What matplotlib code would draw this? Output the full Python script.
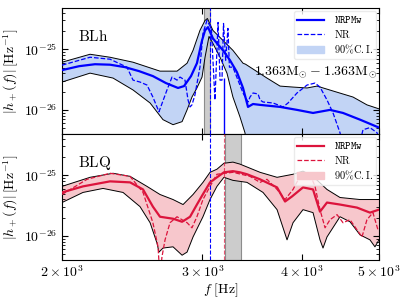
import numpy as np
import matplotlib
matplotlib.use("Agg")
import matplotlib.pyplot as plt
from matplotlib.lines import Line2D
from matplotlib.patches import Patch
from matplotlib.ticker import NullLocator

plt.rcParams['mathtext.fontset'] = 'cm'
plt.rcParams['font.family'] = 'serif'
plt.rcParams['font.serif'] = ['DejaVu Serif']

# ---- BLh (top) : amplitudes in units of 1e-26 ----
blh_med_f = [2000, 2101, 2200, 2298, 2400, 2499, 2601, 2701, 2797, 2846, 2904, 2954, 2998, 3024,
             3050, 3094, 3185, 3250, 3316, 3375, 3424, 3474, 3545, 3756, 3945, 4132, 4340, 4506, 4733, 5000]
blh_med_a = [4.53, 5.26, 5.67, 5.57, 5.07, 4.36, 3.61, 2.77, 2.30, 2.47, 3.61, 5.89, 14.0, 20.5,
             23.2, 15.1, 9.6, 6.61, 4.20, 2.30, 1.12, 1.25, 1.21, 1.12, 1.00, 0.89, 1.00, 0.89, 0.69, 0.51]

blh_up_f = [2000, 2169, 2298, 2456, 2655, 2789, 2871, 2921, 2980, 3024, 3045, 3094, 3185, 3278,
            3375, 3400, 3617, 3756, 3900, 4061, 4180, 4378, 4638, 4829, 5000]
blh_up_a = [6.12, 8.28, 7.39, 6.12, 4.36, 4.36, 5.89, 9.6, 20.5, 29.9, 32.2, 20.5, 14.0, 9.6,
            5.89, 5.67, 3.35, 2.47, 2.38, 2.30, 2.47, 2.05, 1.63, 1.21, 1.04]

blh_lo_f = [2000, 2169, 2318, 2456, 2580, 2678, 2757, 2830, 2871, 2912, 2954, 2998, 3024, 3059,
            3094, 3158, 3222, 3278, 3345, 3394, 3450, 5000]
blh_lo_a = [2.88, 4.04, 3.35, 2.13, 1.30, 0.69, 0.57, 0.64, 1.00, 1.63, 2.30, 3.48, 7.39, 16.3,
            12.5, 7.39, 4.04, 1.63, 0.77, 0.42, 0.1, 0.1]

blh_nr_f = [2000, 2169, 2298, 2413, 2456, 2506, 2557, 2601, 2647, 2709, 2749, 2789, 2813, 2854,
            2879, 2896, 2912, 2937, 2980, 3006, 3041, 3080, 3112, 3140, 3158, 3176, 3190, 3210,
            3231, 3245, 3278, 3375, 3424, 3444, 3474, 3525, 3545, 3576, 3681, 3789, 3844, 3945,
            4061, 4156, 4216, 4302, 4378, 4467, 4520, 4700, 4774, 4871, 4971, 5000]
blh_nr_a = [5.47, 7.39, 6.86, 5.07, 3.10, 2.88, 2.57, 1.63, 0.93, 2.13, 3.48, 3.10, 3.48, 3.10,
            1.46, 1.12, 1.21, 1.76, 5.07, 18.3, 29.9, 22.0, 1.46, 27.7, 3.10, 3.10, 26.7, 6.6,
            22.1, 5.07, 5.07, 1.90, 1.35, 1.63, 1.90, 1.83, 1.46, 1.35, 1.30, 1.12, 1.30, 1.90,
            2.57, 2.77, 2.38, 1.46, 0.89, 0.42, 0.2, 0.2, 0.47, 0.51, 0.42, 0.35]

# ---- BLQ (bottom) ----
blq_med_f = [2000, 2125, 2298, 2435, 2528, 2601, 2655, 2757, 2830, 2896, 2954, 2998, 3068, 3130,
             3194, 3278, 3345, 3414, 3545, 3724, 3811, 3888, 4014, 4132, 4216, 4302, 4467, 4692, 4871, 5000]
blq_med_a = [5.21, 6.56, 7.94, 7.64, 5.84, 3.04, 2.07, 1.92, 1.71, 2.07, 3.29, 4.6, 7.64, 9.26,
             11.2, 11.7, 11.2, 10.4, 8.58, 6.31, 3.69, 4.47, 6.31, 5.84, 2.51, 3.55, 3.29, 2.93, 2.42, 2.71]

blq_up_f = [2000, 2169, 2318, 2435, 2557, 2655, 2757, 2838, 2921, 3006, 3068, 3130, 3194, 3278,
            3345, 3545, 3724, 3900, 4014, 4132, 4302, 4467, 4733, 5000]
blq_up_a = [6.56, 9.26, 10.8, 9.6, 6.56, 4.82, 3.98, 3.29, 4.82, 7.64, 11.2, 12.6, 15.8, 16.5,
            15.3, 11.2, 9.26, 10.4, 11.7, 9.6, 5.84, 4.30, 3.98, 3.98]

blq_lo_f = [2000, 2125, 2252, 2386, 2506, 2580, 2632, 2647, 2678, 2757, 2830, 2871, 2921, 3006,
            3068, 3130, 3194, 3278, 3414, 3576, 3724, 3833, 3900, 4014, 4132, 4216, 4253, 4302,
            4467, 4598, 4733, 4871, 4942, 5000]
blq_lo_a = [3.55, 5.21, 6.07, 5.21, 3.04, 1.65, 0.76, 0.54, 0.63, 0.66, 0.48, 0.54, 0.96, 2.07,
            3.98, 6.56, 9.26, 8.25, 7.64, 5.21, 2.71, 0.86, 1.65, 2.71, 2.42, 0.86, 0.63, 0.96,
            2.07, 1.71, 1.04, 0.86, 0.66, 0.86]

blq_nr_f = [2000, 2150, 2298, 2435, 2528, 2601, 2640, 2655, 2670, 2694, 2733, 2789, 2871, 2912,
            2954, 3006, 3068, 3130, 3278, 3444, 3545, 3617, 3724, 3811, 3900, 3979, 4096, 4156,
            4216, 4278, 4340, 4429, 4506, 4598, 4692, 4760, 4829, 4913, 4985]
blq_nr_a = [4.82, 8.58, 10.8, 9.6, 5.21, 1.65, 0.66, 0.2, 0.45, 0.86, 1.65, 2.07, 1.65, 1.36,
            2.07, 3.98, 6.56, 10.4, 11.2, 9.6, 7.64, 8.58, 5.84, 3.98, 5.84, 9.6, 10.4, 6.56,
            2.71, 1.36, 1.85, 2.24, 1.65, 1.85, 1.26, 0.96, 1.85, 2.42, 1.26]

# reference frequencies [Hz]
blh_span = (3018, 3066)
blq_span = (3200, 3355)
f_blue_line = 3071
f_red_line = 3194
blh_spike_top = 3.35

scale = 1e-26
blue = '#0000ff'
red = '#dc143c'
blue_fill = (0.76, 0.83, 0.96)
red_fill = (0.97, 0.78, 0.80)

fig = plt.figure(figsize=(4.07, 3.01), dpi=100)
ax1 = fig.add_axes([0.1523, 0.5548, 0.7789, 0.4186])
ax2 = fig.add_axes([0.1523, 0.1362, 0.7789, 0.4186])


def band(ax, uf, ua, lf, la, fc):
    uf, ua, lf, la = map(np.asarray, (uf, ua, lf, la))
    ax.fill(np.r_[uf, lf[::-1]], np.r_[ua, la[::-1]] * scale, color=fc, lw=0, zorder=1)
    ax.plot(uf, ua * scale, color='k', lw=0.7, zorder=2)
    ax.plot(lf, la * scale, color='k', lw=0.7, zorder=2)


# top panel
ax1.axvspan(*blh_span, color='0.8', ec='0.55', lw=0.8, zorder=0)
band(ax1, blh_up_f, blh_up_a, blh_lo_f, blh_lo_a, blue_fill)
ax1.plot(blh_nr_f, np.array(blh_nr_a) * scale, color=blue, ls='--', lw=0.9, zorder=3)
ax1.plot(blh_med_f, np.array(blh_med_a) * scale, color=blue, lw=1.6, zorder=4)
ax1.axvline(f_blue_line, color=blue, ls='--', lw=0.8, zorder=3)
ax1.vlines(f_red_line, 1e-28, blh_spike_top * scale, color=blue, lw=1.0, zorder=3)

# bottom panel
ax2.axvspan(*blq_span, color='0.8', ec='0.55', lw=0.8, zorder=0)
band(ax2, blq_up_f, blq_up_a, blq_lo_f, blq_lo_a, red_fill)
ax2.plot(blq_nr_f, np.array(blq_nr_a) * scale, color=red, ls='--', lw=0.9, zorder=3)
ax2.plot(blq_med_f, np.array(blq_med_a) * scale, color=red, lw=1.6, zorder=4)
ax2.axvline(f_blue_line, color=blue, ls='--', lw=0.8, zorder=3)
ax2.axvline(f_red_line, color=red, ls='--', lw=0.8, alpha=0.7, zorder=3)

for ax in (ax1, ax2):
    ax.set_xscale('log')
    ax.set_yscale('log')
    ax.set_xlim(2000, 5000)
    ax.set_ylim(4e-27, 4.8e-25)
    ax.set_xticks([2000, 3000, 4000, 5000])
    ax.xaxis.set_minor_locator(NullLocator())
    ax.set_yticks([1e-26, 1e-25])
    ax.tick_params(which='both', direction='in', top=True, right=True)
    ax.tick_params(which='major', length=4, width=0.8)
    ax.tick_params(which='minor', length=2, width=0.6)
    ax.set_yticklabels([r'$10^{-26}$', r'$10^{-25}$'], fontsize=10)
    ax.set_ylabel(r'$|h_+(f)|\,[\mathrm{Hz}^{-1}]$', fontsize=10, labelpad=2)

ax1.set_xticklabels([])
ax2.set_xticklabels([r'$2\times10^{3}$', r'$3\times10^{3}$', r'$4\times10^{3}$', r'$5\times10^{3}$'],
                    fontsize=10)
ax2.set_xlabel(r'$f\ [\mathrm{Hz}]$', fontsize=10, labelpad=1)

ax1.text(0.05, 0.74, r'$\mathrm{BLh}$', transform=ax1.transAxes, fontsize=11)
ax2.text(0.05, 0.74, r'$\mathrm{BLQ}$', transform=ax2.transAxes, fontsize=11)
ax1.text(0.995, 0.47, r'$1.363\mathrm{M}_{\odot}-1.363\mathrm{M}_{\odot}$',
         transform=ax1.transAxes, ha='right', fontsize=10)

for ax, c, fc in ((ax1, blue, blue_fill), (ax2, red, red_fill)):
    handles = [Line2D([], [], color=c, lw=1.6),
               Line2D([], [], color=c, ls='--', lw=0.9),
               Patch(color=fc)]
    labels = [r'$\mathtt{NRPMw}$', r'$\mathrm{NR}$', r'$90\%\mathrm{C.I.}$']
    ax.legend(handles, labels, loc='upper right', fontsize=7.5, frameon=True,
              fancybox=True, framealpha=0.8, edgecolor='0.9', handlelength=2.6,
              labelspacing=0.25, borderpad=0.35, handletextpad=0.9,
              borderaxespad=0.25)

fig.savefig('out.png', dpi=100)
